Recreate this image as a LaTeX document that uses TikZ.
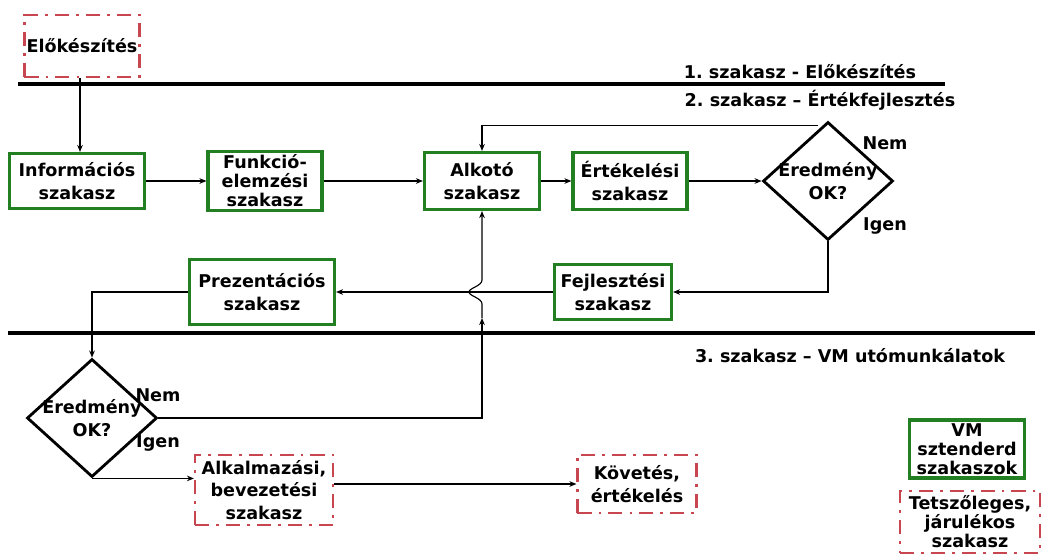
\documentclass[tikz,border=0pt]{standalone}
\usepackage{fontspec}
\setmainfont{DejaVu Sans}
\usepackage{xcolor}
\usetikzlibrary{shapes.geometric, arrows.meta, positioning, calc}

\definecolor{stdgreen}{RGB}{34,128,34}
\definecolor{optred}{RGB}{200,70,80}

\frenchspacing

\begin{document}
\begin{tikzpicture}[
    x=0.025cm, y=-0.025cm,
    font=\bfseries\fontsize{12.5}{16}\selectfont,
    stdbox/.style={
        rectangle,
        draw=stdgreen,
        line width=2.2pt,
        fill=white,
        align=center,
        inner sep=1pt
    },
    optbox/.style={
        rectangle,
        draw=optred,
        line width=1.5pt,
        dash pattern=on 10pt off 5pt on 2pt off 5pt,
        align=center,
        inner sep=0pt
    },
    decision/.style={
        diamond,
        draw,
        line width=2pt,
        minimum width=3.25cm,
        minimum height=2.95cm,
        inner sep=0pt
    },
    tight/.style={font=\bfseries\fontsize{12.5}{13.5}\selectfont},
    caption/.style={align=center, inner sep=0pt},
    sepline/.style={line width=2.2pt},
    arrow/.style={-{Stealth[length=5pt,width=4pt]}, line width=0.8pt}
]

    \useasboundingbox (0,0) rectangle (1043,553);

    % Phase separators and their titles
    \draw [sepline] (18,84) -- (945,84);
    \draw [sepline] (8,333) -- (1035,333);
    \node [caption] (ph1) at (800,72) {1. szakasz - Előkészítés};
    \node [caption] (ph2) at (820,100) {2. szakasz – Értékfejlesztés};
    \node [caption] (ph3) at (850,356) {3. szakasz – VM utómunkálatok};

    % Preparation
    \node [optbox, minimum width=2.875cm, minimum height=1.55cm] (elok) at (82,46) {Előkészítés};

    % Upper row of value engineering steps
    \node [stdbox, minimum width=3.375cm, minimum height=1.375cm] (info) at (77,181) {Információs\\szakasz};
    \node [stdbox, tight, minimum width=2.85cm, minimum height=1.475cm] (funk) at (265,181) {Funkció-\\elemzési\\szakasz};
    \node [stdbox, minimum width=2.875cm, minimum height=1.425cm] (alkoto) at (482,181) {Alkotó\\szakasz};
    \node [stdbox, minimum width=2.85cm, minimum height=1.425cm] (ertek) at (630,181) {Értékelési\\szakasz};
    \node [decision] (dia1) at (828,181) {};
    \node [caption] (dia1txt) at (dia1) {Eredmény\\OK?};
    \node [caption] (nem1) at (885,143) {Nem};
    \node [caption] (igen1) at (885,226) {Igen};

    % Lower row
    \node [stdbox, minimum width=2.925cm, minimum height=1.375cm] (fejl) at (613,292) {Fejlesztési\\szakasz};
    \node [stdbox, minimum width=3.625cm, minimum height=1.625cm] (prez) at (262,292) {Prezentációs\\szakasz};

    % Follow-up phase
    \node [decision] (dia2) at (92,418) {};
    \node [caption] (dia2txt) at (dia2) {Eredmény\\OK?};
    \node [caption] (nem2) at (158,395) {Nem};
    \node [caption] (igen2) at (158,443) {Igen};
    \node [optbox, minimum width=3.45cm, minimum height=1.75cm] (alkalm) at (264,490) {Alkalmazási,\\bevezetési\\szakasz};
    \node [optbox, minimum width=2.975cm, minimum height=1.45cm] (kovet) at (637,484) {Követés,\\értékelés};

    % Legend
    \node [stdbox, tight, minimum width=2.875cm, minimum height=1.45cm] (legstd) at (967,449) {VM\\sztenderd\\szakaszok};
    \node [optbox, tight, minimum width=3.5cm, minimum height=1.55cm] (legopt) at (970,522) {Tetszőleges,\\járulékos\\szakasz};

    % Connections
    \draw [arrow] (elok.south -| 80,0) -- (info.north -| 80,0);
    \draw [arrow] (info) -- (funk);
    \draw [arrow] (funk) -- (alkoto);
    \draw [arrow] (alkoto) -- (ertek);
    \draw [arrow] (ertek.east) -- (dia1.west);
    \draw [arrow] ($(dia1.north)+(-10,5)$) -| (alkoto.north);
    \draw [arrow] (dia1.south) |- (fejl.east);
    \draw [arrow] (fejl) -- (prez);
    \draw [arrow] (prez.west) -| (dia2.north);

    % Back loop to the creative phase, hopping over the lower row
    \coordinate (turn) at (alkoto.south |- dia2.east);
    \coordinate (hop) at (alkoto.south |- fejl.west);
    \draw [arrow] (dia2.east) -- (turn) -- ($(hop)+(0,26)$);
    \draw [arrow] ($(hop)+(0,26)$) -- ($(hop)+(0,12)$)
        .. controls ($(hop)+(0,6)$) and ($(hop)+(-13,4)$) .. ($(hop)+(-13,0)$)
        .. controls ($(hop)+(-13,-4)$) and ($(hop)+(0,-6)$) .. ($(hop)+(0,-12)$)
        -- (alkoto.south);

    \draw [arrow] (dia2.south) -- (dia2.south -| alkalm.west);
    \draw [arrow] (kovet.west -| alkalm.east) -- (kovet.west);

\end{tikzpicture}
\end{document}
